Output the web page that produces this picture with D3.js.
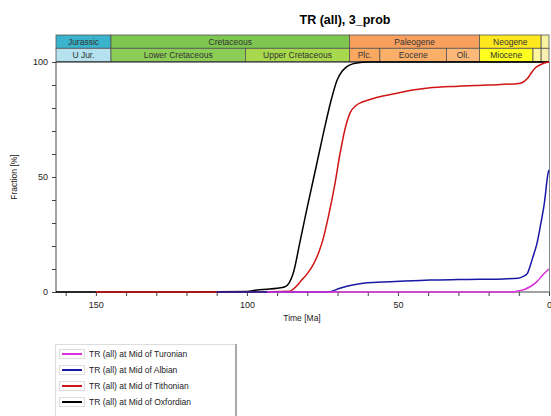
<!DOCTYPE html>
<html>
<head>
  <meta charset="utf-8">
  <script src="https://d3js.org/d3.v7.min.js"></script>
  <style>
    body { margin: 0; background: #fff; }
    text { font-family: "Liberation Sans", Arial, sans-serif; }
  </style>
</head>
<body>
  <svg id="chart" width="551" height="416"></svg>
  <script>
    // periodos (fila superior) y épocas (fila inferior), en Ma
    const periodNames = ["Jurassic", "Cretaceous", "Paleogene", "Neogene", ""];
    const periodFrom = [163.2, 145, 66, 23, 2.6];
    const periodTo = [145, 66, 23, 2.6, 0];
    const epochNames = ["U Jur.", "Lower Cretaceous", "Upper Cretaceous", "Plc.", "Eocene", "Oli.", "Miocene", "", ""];
    const epochFrom = [163.2, 145, 100.5, 66, 56, 33.9, 23, 5.3, 2.6];
    const epochTo = [145, 100.5, 66, 56, 33.9, 23, 5.3, 2.6, 0];

    const seriesNames = [
      "TR (all) at Mid of Oxfordian",
      "TR (all) at Mid of Tithonian",
      "TR (all) at Mid of Albian",
      "TR (all) at Mid of Turonian"
    ];

    const oxfordianTime = [163.2, 120, 100, 96.7, 93.3, 90, 87.4, 86, 84.7, 82.4, 80, 77, 74, 72, 70.2, 68.5, 66.9, 65, 63.6, 60, 40, 20, 0];
    const oxfordianValue = [0, 0, 0.2, 0.9, 1.2, 1.6, 2.3, 4, 8, 22, 37, 55, 73, 84, 92, 96, 98, 99.2, 99.6, 100, 100, 100, 100];

    const tithonianTime = [150, 120, 100, 86, 84, 82, 80, 78, 76, 74.8, 73, 71, 69.2, 67.5, 65.8, 64, 62, 59, 55, 50, 45, 40, 30, 20, 10, 9, 8, 7, 6, 4.5, 3, 1.5, 0];
    const tithonianValue = [0, 0, 0, 0.3, 2, 5, 8, 12, 18, 23, 33, 46, 60, 71, 78, 81, 82.5, 83.8, 85.2, 86.5, 87.8, 88.7, 89.5, 90, 90.7, 91, 91.8, 93, 95, 97.5, 98.7, 99.6, 100];

    const albianTime = [110, 90, 73.1, 69.2, 65, 61.5, 57, 52.6, 45, 39.4, 30, 22.8, 15, 10.2, 8.5, 7.2, 6.2, 5.3, 4, 2.9, 1.5, 0.3, 0];
    const albianValue = [0, 0, 0, 1.6, 3, 3.8, 4.2, 4.5, 4.9, 5.2, 5.4, 5.5, 5.7, 6, 6.8, 8, 11.5, 15.3, 21, 28.4, 39, 51.7, 53];

    const turonianTime = [93.3, 60, 30, 12, 10, 8, 6, 4, 2, 0];
    const turonianValue = [0, 0, 0, 0, 0.5, 1.2, 2.5, 4.5, 7.5, 10];

    const xTicks = [150, 100, 50, 0];
    const yTicks = [0, 50, 100];

    const periodColors = ["#3AB3CC", "#7DC64F", "#F9A05F", "#FFE81E", "#F9F2A0"];
    const epochColors = ["#B5E2EE", "#8CCD56", "#A8D84B", "#FBA861", "#FBB06A", "#FCB878", "#FFFF20", "#FFF59A", "#F8EEB0"];
    const seriesColors = ["#000000", "#D11515", "#1818A6", "#DA2FDA"];

    const margin = { top: 62, right: 549, bottom: 292, left: 56 };
    const svg = d3.select("#chart");

    const x = d3.scaleLinear().domain([163.2, 0]).range([margin.left, margin.right]);
    const y = d3.scaleLinear().domain([0, 100]).range([margin.bottom, margin.top]);

    // título
    svg.append("text")
      .attr("x", 345).attr("y", 24)
      .attr("text-anchor", "middle")
      .style("font-size", "12.5px").style("font-weight", "bold")
      .text("TR (all), 3_prob");

    // bandas de tiempo geológico
    function drawBand(names, from, to, colors, y0, h) {
      const g = svg.append("g");
      names.forEach((name, i) => {
        g.append("rect")
          .attr("x", x(from[i])).attr("y", y0)
          .attr("width", x(to[i]) - x(from[i])).attr("height", h)
          .attr("fill", colors[i]).attr("stroke", "#555").attr("stroke-width", 0.8);
        g.append("text")
          .attr("x", (x(from[i]) + x(to[i])) / 2).attr("y", y0 + h / 2 + 3.3)
          .attr("text-anchor", "middle")
          .style("font-size", "8.5px").attr("fill", "#333")
          .text(name);
      });
    }
    drawBand(periodNames, periodFrom, periodTo, periodColors, 35, 13.3);
    drawBand(epochNames, epochFrom, epochTo, epochColors, 48.3, 13.4);

    // marco
    svg.append("line")
      .attr("x1", margin.left).attr("x2", margin.right)
      .attr("y1", margin.top).attr("y2", margin.top)
      .attr("stroke", "#222").attr("stroke-width", 1.2);
    svg.append("line")
      .attr("x1", margin.right + 0.5).attr("x2", margin.right + 0.5)
      .attr("y1", margin.top).attr("y2", margin.bottom)
      .attr("stroke", "#888").attr("stroke-width", 1);

    // ejes
    const xAxis = svg.append("g")
      .attr("transform", `translate(0,${margin.bottom})`)
      .call(d3.axisBottom(x).tickValues(d3.range(160, -1, -10)).tickSize(4).tickFormat(d => xTicks.includes(d) ? d : ""));
    const yAxis = svg.append("g")
      .attr("transform", `translate(${margin.left},0)`)
      .call(d3.axisLeft(y).tickValues(d3.range(0, 101, 10)).tickSize(4).tickFormat(d => yTicks.includes(d) ? d : ""));
    [xAxis, yAxis].forEach(a => {
      a.selectAll("path").attr("stroke", "#444");
      a.selectAll("line").attr("stroke", "#444");
      a.selectAll("text").style("font-size", "9px").attr("fill", "#222")
        .style("font-family", "Liberation Sans, Arial, sans-serif");
    });
    xAxis.select(".domain").attr("d", `M${margin.left},0H${margin.right}`);
    xAxis.selectAll("text").attr("dy", "1.1em").attr("y", 6);
    yAxis.select(".domain").attr("d", `M0,${margin.top}V${margin.bottom}`);
    yAxis.selectAll("text").attr("x", -8);

    svg.append("text")
      .attr("x", 302).attr("y", 321)
      .attr("text-anchor", "middle")
      .style("font-size", "8.5px").attr("fill", "#222")
      .text("Time [Ma]");
    svg.append("text")
      .attr("transform", "translate(17,177) rotate(-90)")
      .attr("text-anchor", "middle")
      .style("font-size", "8.5px").attr("fill", "#222")
      .text("Fraction [%]");

    // curvas
    const allTimes = [oxfordianTime, tithonianTime, albianTime, turonianTime];
    const allValues = [oxfordianValue, tithonianValue, albianValue, turonianValue];
    const line = d3.line().x(d => x(d[0])).y(d => y(d[1])).curve(d3.curveMonotoneX);
    allTimes.forEach((times, i) => {
      svg.append("path")
        .datum(times.map((t, j) => [t, allValues[i][j]]))
        .attr("fill", "none")
        .attr("stroke", seriesColors[i])
        .attr("stroke-width", 1.5)
        .attr("d", line);
    });

    // leyenda (orden inverso)
    const legend = svg.append("g");
    legend.append("rect")
      .attr("x", 55.5).attr("y", 344.5).attr("width", 180).attr("height", 80)
      .attr("fill", "#fff").attr("stroke", "#ddd");
    legend.append("line")
      .attr("x1", 236).attr("x2", 236).attr("y1", 344).attr("y2", 416)
      .attr("stroke", "#aaa").attr("stroke-width", 2);
    [3, 2, 1, 0].forEach((s, k) => {
      const cy = 354 + k * 16;
      legend.append("rect")
        .attr("x", 59.5).attr("y", cy - 4.5).attr("width", 25).attr("height", 9)
        .attr("fill", "#fff").attr("stroke", "#ddd");
      legend.append("line")
        .attr("x1", 62).attr("x2", 82).attr("y1", cy).attr("y2", cy)
        .attr("stroke", seriesColors[s]).attr("stroke-width", 2);
      legend.append("text")
        .attr("x", 89).attr("y", cy + 3)
        .style("font-size", "8.5px").attr("fill", "#222")
        .text(seriesNames[s]);
    });
  </script>
</body>
</html>
